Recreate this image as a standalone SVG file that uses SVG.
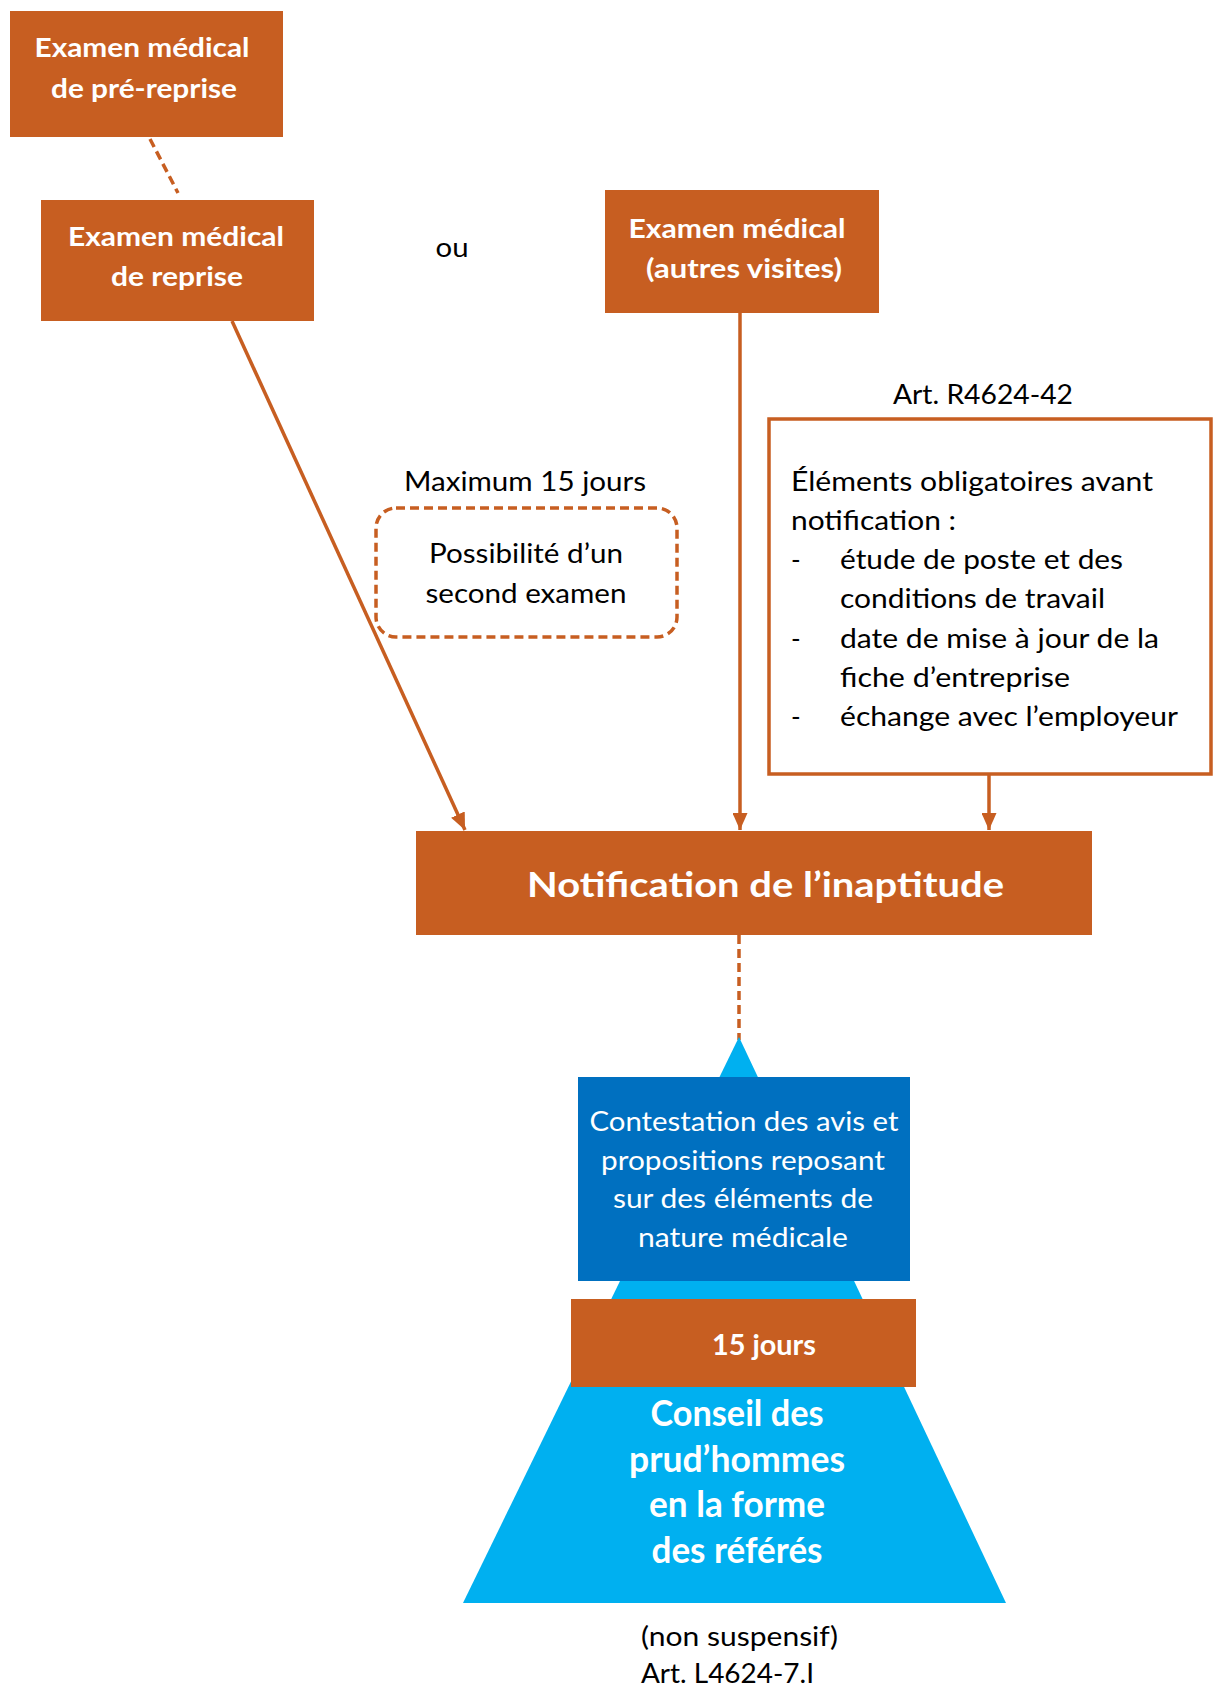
<svg xmlns="http://www.w3.org/2000/svg" width="1219" height="1689" viewBox="0 0 1219 1689">
<style>
.box{fill:#C75E21}
.bt{font-family:Lato,"Liberation Sans",sans-serif;font-weight:bold;fill:#FFFFFF;font-size:26px;text-anchor:middle}
.t{font-family:Lato,"Liberation Sans",sans-serif;fill:#000000;font-size:26px}
.tm{text-anchor:middle}
.wt{font-family:Lato,"Liberation Sans",sans-serif;fill:#FFFFFF;font-size:26px;text-anchor:middle}
.ln{stroke:#C75E21;stroke-width:3.5;fill:none}
.dash{stroke:#C75E21;stroke-width:3.5;fill:none;stroke-dasharray:9 5}
</style>
<defs>
<marker id="arr" viewBox="0 0 17 15" refX="17" refY="7.5" markerWidth="17" markerHeight="15" markerUnits="userSpaceOnUse" orient="auto">
<path d="M0,0 L17,7.5 L0,15 z" fill="#C75E21"/>
</marker>
</defs>

<g id="connectors">
<line class="dash" x1="150" y1="139" x2="178" y2="193"/>
<line class="ln" x1="232" y1="321" x2="465" y2="830" marker-end="url(#arr)"/>
<line class="ln" x1="740" y1="313" x2="740" y2="830" marker-end="url(#arr)"/>
<line class="ln" x1="989" y1="775" x2="989" y2="830" marker-end="url(#arr)"/>
<line class="dash" x1="739" y1="935" x2="739" y2="1040"/>
</g>

<g id="node-prereprise">
<rect class="box" x="10" y="11" width="273" height="126"/>
<text class="bt" x="142" y="57" textLength="215" lengthAdjust="spacingAndGlyphs">Examen médical</text>
<text class="bt" x="144" y="98" textLength="186" lengthAdjust="spacingAndGlyphs">de pré-reprise</text>
</g>

<g id="node-reprise">
<rect class="box" x="41" y="200" width="273" height="121"/>
<text class="bt" x="176" y="246" textLength="216" lengthAdjust="spacingAndGlyphs">Examen médical</text>
<text class="bt" x="177" y="286" textLength="132" lengthAdjust="spacingAndGlyphs">de reprise</text>
</g>

<g id="label-ou">
<text class="t tm" x="452" y="257" textLength="33" lengthAdjust="spacingAndGlyphs">ou</text>
</g>

<g id="node-autres">
<rect class="box" x="605" y="190" width="274" height="123"/>
<text class="bt" x="737" y="238" textLength="217" lengthAdjust="spacingAndGlyphs">Examen médical</text>
<text class="bt" x="744" y="278" textLength="196" lengthAdjust="spacingAndGlyphs">(autres visites)</text>
</g>

<g id="node-second">
<text class="t tm" x="525" y="491" textLength="242" lengthAdjust="spacingAndGlyphs">Maximum 15 jours</text>
<rect class="dash" x="376" y="508" width="301" height="129" rx="20" ry="20"/>
<text class="t tm" x="526" y="563" textLength="194" lengthAdjust="spacingAndGlyphs">Possibilité d’un</text>
<text class="t tm" x="526" y="603" textLength="201" lengthAdjust="spacingAndGlyphs">second examen</text>
</g>

<g id="node-elements">
<text class="t" x="893" y="404" textLength="180" lengthAdjust="spacingAndGlyphs">Art. R4624-42</text>
<rect class="ln" x="769" y="419" width="442" height="355"/>
<text class="t" x="791" y="491" textLength="362" lengthAdjust="spacingAndGlyphs">Éléments obligatoires avant</text>
<text class="t" x="791" y="530" textLength="165" lengthAdjust="spacingAndGlyphs">notification :</text>
<text class="t" x="791" y="569">-</text>
<text class="t" x="840" y="569" textLength="283" lengthAdjust="spacingAndGlyphs">étude de poste et des</text>
<text class="t" x="840" y="608" textLength="265" lengthAdjust="spacingAndGlyphs">conditions de travail</text>
<text class="t" x="791" y="648">-</text>
<text class="t" x="840" y="648" textLength="319" lengthAdjust="spacingAndGlyphs">date de mise à jour de la</text>
<text class="t" x="840" y="687" textLength="230" lengthAdjust="spacingAndGlyphs">fiche d’entreprise</text>
<text class="t" x="791" y="726">-</text>
<text class="t" x="840" y="726" textLength="338" lengthAdjust="spacingAndGlyphs">échange avec l’employeur</text>
</g>

<g id="node-notification">
<rect class="box" x="416" y="831" width="676" height="104"/>
<text class="bt" x="765.5" y="897" style="font-size:35px" textLength="477" lengthAdjust="spacingAndGlyphs">Notification de l’inaptitude</text>
</g>

<g id="node-pyramid">
<polygon points="739,1037 463,1603 1006,1603" fill="#00B0F0"/>
</g>

<g id="node-contestation">
<rect x="578" y="1077" width="332" height="204" fill="#0070C0"/>
<text class="wt" x="744" y="1131" textLength="309" lengthAdjust="spacingAndGlyphs">Contestation des avis et</text>
<text class="wt" x="743" y="1170" textLength="284" lengthAdjust="spacingAndGlyphs">propositions reposant</text>
<text class="wt" x="743" y="1208" textLength="260" lengthAdjust="spacingAndGlyphs">sur des éléments de</text>
<text class="wt" x="743" y="1247" textLength="210" lengthAdjust="spacingAndGlyphs">nature médicale</text>
</g>

<g id="node-delai">
<rect class="box" x="571" y="1299" width="345" height="88"/>
<text class="bt" x="764" y="1355" style="font-size:28px" textLength="104" lengthAdjust="spacingAndGlyphs">15 jours</text>
</g>

<g id="node-conseil">
<text class="bt" x="737" y="1426" style="font-size:36px" textLength="173" lengthAdjust="spacingAndGlyphs">Conseil des</text>
<text class="bt" x="737" y="1472" style="font-size:36px" textLength="216" lengthAdjust="spacingAndGlyphs">prud’hommes</text>
<text class="bt" x="737" y="1517" style="font-size:36px" textLength="176" lengthAdjust="spacingAndGlyphs">en la forme</text>
<text class="bt" x="737" y="1563" style="font-size:36px" textLength="171" lengthAdjust="spacingAndGlyphs">des référés</text>
</g>

<g id="node-footer">
<text class="t" x="641" y="1646" textLength="197" lengthAdjust="spacingAndGlyphs">(non suspensif)</text>
<text class="t" x="641" y="1683" textLength="173" lengthAdjust="spacingAndGlyphs">Art. L4624-7.I</text>
</g>
</svg>
